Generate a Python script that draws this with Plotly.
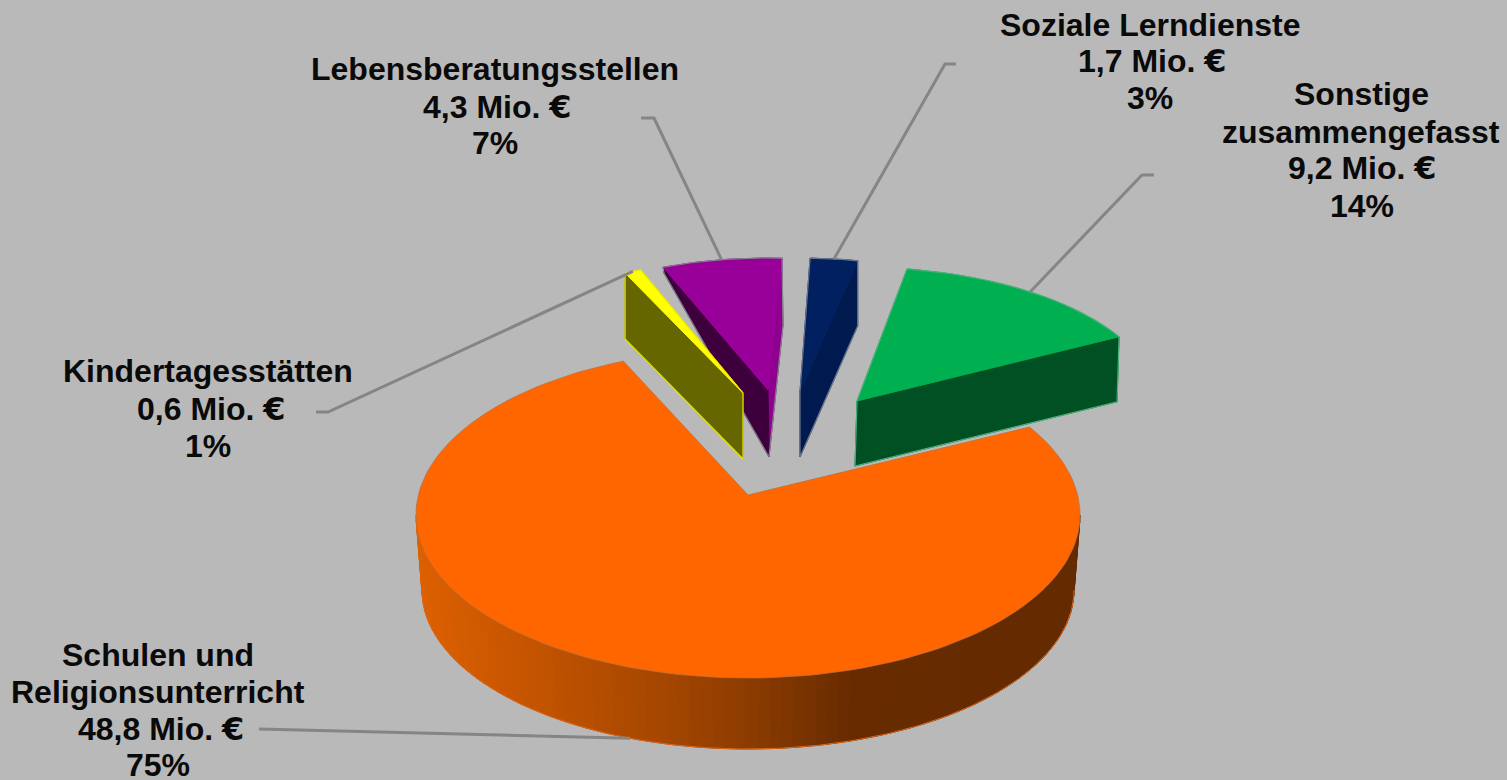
import math
import plotly.graph_objects as go

names = ["Schulen und<br>Religionsunterricht", "Kindertagesstätten", "Lebensberatungsstellen",
         "Soziale Lerndienste", "Sonstige<br>zusammengefasst"]
values = [48.8, 0.6, 4.3, 1.7, 9.2]
value_labels = ["48,8", "0,6", "4,3", "1,7", "9,2"]
percent_labels = ["75%", "1%", "7%", "3%", "14%"]

total = sum(values)
BG = "#B9B9B9"

# drawing geometry of each exploded slice (screen pixels)
GEOM = [
    dict(apex=(748, 495), c=(748, 515), rx=332, ry=166, t0=32.0, k=280 / 272),
    dict(apex=(743, 393), c=(743, 400), rx=290, ry=139, t0=114.0, k=1.0, depth=(0, 66)),
    dict(apex=(768, 390), c=(767, 397), rx=290, ry=139, t0=111.0, k=1.0, depth=(1, 67), left_rim=6),
    dict(apex=(800, 392), c=(800, 397), rx=290, ry=139, t0=88.0, k=1.0, depth=(0, 65)),
    dict(apex=(857, 401), c=(857, 403), rx=300, ry=136, t0=80.4, k=1.0, depth=(-2, 65)),
]
STYLE = [
    dict(top="#FF6600", edge="#C0703A"),
    dict(top="#FFFF00", edge="#E8E800", left="#666600"),
    dict(top="#990099", edge="#85808A", left="#3D003D", right="#8E008E"),
    dict(top="#002060", edge="#6A7488", right="#001A50"),
    dict(top="#00B050", edge="#4CAF7A", right="#005024"),
]

fig = go.Figure()


def poly(xs, ys, fill, line=None, width=1):
    fig.add_trace(go.Scatter(x=xs, y=ys, mode="lines", fill="toself", fillcolor=fill,
                             line=dict(color=line or fill, width=width), hoverinfo="skip", showlegend=False))


def stroke(xs, ys, color, width=1.0):
    fig.add_trace(go.Scatter(x=xs, y=ys, mode="lines", line=dict(color=color, width=width),
                             hoverinfo="skip", showlegend=False))


def rim(g, t):
    r = math.radians(t)
    return g["c"][0] + g["rx"] * math.cos(r), g["c"][1] - g["ry"] * math.sin(r)


def arc_ts(g, v, n):
    span = v / total * 360 * g["k"]
    return [g["t0"] - span * i / n for i in range(n + 1)]


# ---------- large slice: side with a horizontal shading, then the top face
g0 = GEOM[0]
stops = [(416, (0xDE, 0x60, 0x00)), (530, (0xC4, 0x54, 0x00)), (650, (0xA8, 0x48, 0x00)),
         (750, (0x8C, 0x3C, 0x00)), (850, (0x68, 0x2B, 0x00)), (1081, (0x64, 0x2A, 0x00))]


def shade(x):
    for (a, ca), (b, cb) in zip(stops, stops[1:]):
        if x <= b:
            f = (x - a) / (b - a)
            return "rgb(%d,%d,%d)" % tuple(round(p + (q - p) * f) for p, q in zip(ca, cb))
    return "rgb(100,42,0)"


def low_top(t):
    r = math.radians(t)
    return 748 + 332 * math.cos(r), 515 - 163 * math.sin(r)


def low_bot(t):
    r = math.radians(t)
    return 748 + 326 * math.cos(r), 590 - 159 * math.sin(r)


N = 90
for i in range(N):
    a, b = 180 + 180 * i / N, 180 + 180 * (i + 1) / N
    p1, p2, p3, p4 = low_top(a), low_top(b), low_bot(b), low_bot(a)
    poly([p1[0], p2[0], p3[0], p4[0], p1[0]], [p1[1], p2[1], p3[1], p4[1], p1[1]],
         shade((p1[0] + p2[0]) / 2))
bx, by = zip(*[low_bot(180 + i) for i in range(181)])
stroke(bx, by, "#D9661A")

ts = arc_ts(g0, values[0], 140)
pts = []
for t in ts:
    t_n = t % 360
    pts.append(low_top(t_n) if t_n > 180 else rim(g0, t_n))
poly([g0["apex"][0]] + [p[0] for p in pts] + [g0["apex"][0]],
     [g0["apex"][1]] + [p[1] for p in pts] + [g0["apex"][1]], STYLE[0]["top"], "#C0703A", 0.8)

# ---------- exploded slices
for idx in (2, 3, 1, 4):
    g, s = GEOM[idx], STYLE[idx]
    ts = arc_ts(g, values[idx], 30)
    ax, ay = g["apex"]
    p0, p1 = rim(g, ts[0]), rim(g, ts[-1])
    dx, dy = g["depth"]
    ldy = g.get("left_rim", dy)
    if "right" in s:
        poly([p1[0], ax, ax + dx, p1[0] + dx, p1[0]],
             [p1[1], ay, ay + dy, p1[1] + dy, p1[1]], s["right"])
    if "left" in s:
        poly([p0[0], ax, ax + dx, p0[0] + dx, p0[0]],
             [p0[1], ay, ay + dy, p0[1] + ldy, p0[1]], s["left"])
    arc = [rim(g, t) for t in ts]
    poly([ax] + [p[0] for p in arc] + [ax], [ay] + [p[1] for p in arc] + [ay], s["top"])
    # outer silhouette of the slice
    sil = list(arc)
    if "right" in s:
        sil += [(p1[0] + dx, p1[1] + dy), (ax + dx, ay + dy)]
    else:
        sil += [(ax, ay), (ax + dx, ay + dy)]
    if "left" in s:
        sil += [(p0[0] + dx, p0[1] + ldy), arc[0]]
    else:
        sil += [(ax, ay), arc[0]]
    stroke([p[0] for p in sil], [p[1] for p in sil], s["edge"], 1.2)

# ---------- leader lines
GREY = "#858585"


def mid_rim(i):
    g = GEOM[i]
    ts = arc_ts(g, values[i], 2)
    return rim(g, ts[1])


leaders = [
    ((259, 729), low_bot(248.8)),
    ((316, 412), (328, 412), mid_rim(1)),
    ((641, 118), (654, 118), mid_rim(2)),
    ((956, 64), (945, 64), mid_rim(3)),
    ((1154, 175), (1142, 175), mid_rim(4)),
]
for l in leaders:
    stroke([p[0] for p in l], [p[1] for p in l], GREY, 3)

# ---------- labels
LABEL_POS = [
    [(158, 655), (158, 692), (161, 729), (158, 765)],
    [(208, 371), (211, 409), (208, 446)],
    [(495, 69), (497, 107), (495, 143)],
    [(1150, 25), (1152, 61), (1150, 98)],
    [(1361, 94), (1361, 132), (1362, 168), (1362, 206)],
]
EURO = '<span style="font-family:DejaVu Sans">€</span>'
for i, pos in enumerate(LABEL_POS):
    lines = names[i].split("<br>") + [value_labels[i] + " Mio. " + EURO, percent_labels[i]]
    for (x, y), txt in zip(pos, lines):
        fig.add_annotation(x=x, y=y, text="<b>%s</b>" % txt, showarrow=False, xanchor="center", yanchor="middle",
                           font=dict(family="Liberation Sans", size=32, color="#0A0A0A"))

fig.update_layout(width=1507, height=780, margin=dict(l=0, r=0, t=0, b=0),
                  paper_bgcolor=BG, plot_bgcolor=BG, showlegend=False,
                  xaxis=dict(range=[0, 1507], visible=False, fixedrange=True),
                  yaxis=dict(range=[780, 0], visible=False, fixedrange=True))
fig.write_html("out.html", config={"displayModeBar": False},
               post_script="document.body.style.margin='0';document.documentElement.style.background='%s';" % BG)
